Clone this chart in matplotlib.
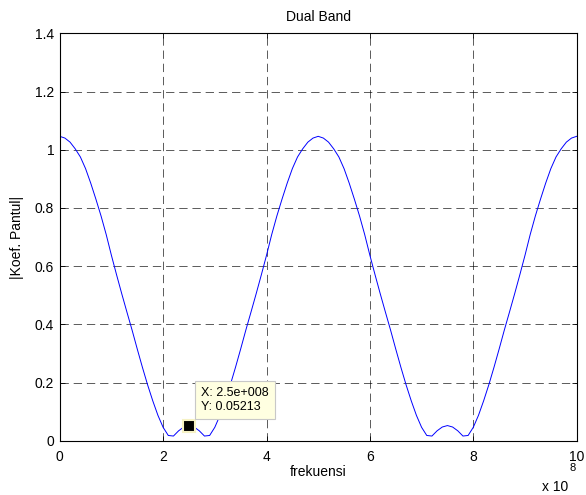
import numpy as np
import matplotlib
matplotlib.use("Agg")
import matplotlib.pyplot as plt

plt.rcParams["font.family"] = ["Liberation Sans", "DejaVu Sans"]
plt.rcParams["lines.scale_dashes"] = False

# frequency sweep 0 .. 1 GHz, 0.1e8 steps
freq = np.linspace(0, 1e9, 101)

# |reflection coefficient|
koef = [
    1.046, 1.040, 1.026, 1.003, 0.975, 0.935, 0.885, 0.830, 0.772, 0.708,
    0.637, 0.570, 0.505, 0.442, 0.380, 0.315, 0.252, 0.192, 0.137, 0.087,
    0.046, 0.018, 0.016, 0.034, 0.047, 0.052, 0.047, 0.034, 0.016, 0.018,
    0.046, 0.087, 0.137, 0.192, 0.252, 0.315, 0.380, 0.442, 0.505, 0.570,
    0.637, 0.708, 0.772, 0.830, 0.885, 0.935, 0.975, 1.003, 1.026, 1.040,
    1.046,
    1.040, 1.026, 1.003, 0.975, 0.935, 0.885, 0.830, 0.772, 0.708,
    0.637, 0.570, 0.505, 0.442, 0.380, 0.315, 0.252, 0.192, 0.137, 0.087,
    0.046, 0.018, 0.016, 0.034, 0.047, 0.052, 0.047, 0.034, 0.016, 0.018,
    0.046, 0.087, 0.137, 0.192, 0.252, 0.315, 0.380, 0.442, 0.505, 0.570,
    0.637, 0.708, 0.772, 0.830, 0.885, 0.935, 0.975, 1.003, 1.026, 1.040,
    1.046,
]

xticks = [0, 2e8, 4e8, 6e8, 8e8, 10e8]
xtick_labels = ["0", "2", "4", "6", "8", "10"]
yticks = [0, 0.2, 0.4, 0.6, 0.8, 1.0, 1.2, 1.4]
ytick_labels = ["0", "0.2", "0.4", "0.6", "0.8", "1", "1.2", "1.4"]

tip_x = 2.5e8
tip_y = 0.05213

fig = plt.figure(figsize=(5.86, 4.95), dpi=100)
ax = fig.add_axes([0.1019, 0.1097, 0.8822, 0.8230])

ax.plot(freq, koef, color="#0000ff", lw=0.7)

ax.set_xlim(0, 1e9)
ax.set_ylim(0, 1.4)
ax.set_xticks(xticks)
ax.set_xticklabels(xtick_labels)
ax.set_yticks(yticks)
ax.set_yticklabels(ytick_labels)
ax.tick_params(direction="in", length=3.5, width=0.6, top=True, right=True,
               labelsize=10, colors="black")
ax.tick_params(axis="x", pad=6.5)
ax.tick_params(axis="y", pad=4)
for s in ax.spines.values():
    s.set_linewidth(0.8)

ax.grid(True, color="black", lw=0.6, ls=(0, (6, 3.5)), alpha=0.75)
ax.set_axisbelow(True)

ax.set_title("Dual Band", fontsize=10, pad=9)
ax.set_xlabel("frekuensi", fontsize=10, labelpad=1)
ax.set_ylabel("|Koef. Pantul|", fontsize=10, labelpad=8)

# exponent label like MATLAB
ax.text(0.983, -0.113, "x 10", transform=ax.transAxes, ha="right",
        va="center", fontsize=10)
ax.text(0.993, -0.068, "8", transform=ax.transAxes, ha="center",
        va="center", fontsize=8)

# data tip
ax.plot([tip_x], [tip_y], marker="s", ms=8, mfc="black", mec="#f6f2c4",
        mew=1.5, zorder=5)
ax.annotate(f"X: {tip_x:.1e}".replace("e+08", "e+008") + f"\nY: {tip_y}",
            xy=(tip_x, tip_y), xytext=(8.5, 9), textcoords="offset points",
            ha="left", va="bottom", fontsize=9, linespacing=1.2,
            bbox=dict(boxstyle="square,pad=0.5", fc="#ffffe1", ec="#c8c8c8",
                      lw=0.8), zorder=6)

fig.savefig("out.png", dpi=100)
